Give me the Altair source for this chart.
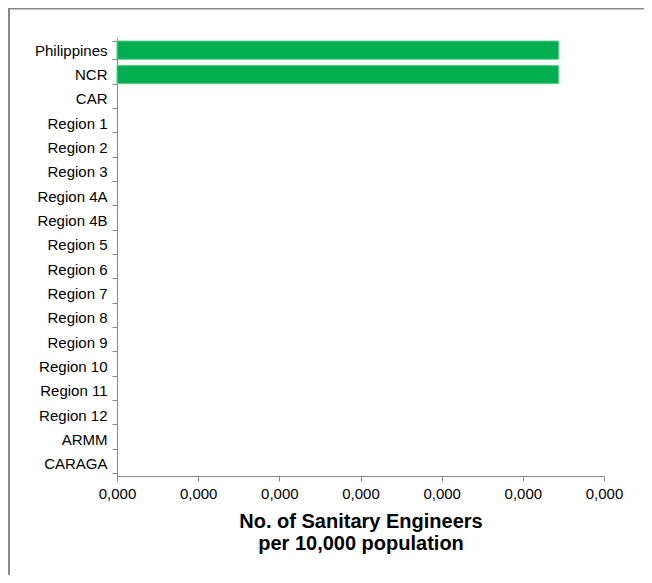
import altair as alt
import pandas as pd

regions = ["Philippines", "NCR", "CAR", "Region 1", "Region 2", "Region 3",
           "Region 4A", "Region 4B", "Region 5", "Region 6", "Region 7",
           "Region 8", "Region 9", "Region 10", "Region 11", "Region 12",
           "ARMM", "CARAGA"]
values = [0.000272, 0.000272, 0, 0, 0, 0, 0, 0, 0, 0, 0, 0, 0, 0, 0, 0, 0, 0]
x_ticks = [0, 0.00005, 0.0001, 0.00015, 0.0002, 0.00025, 0.0003]
x_title = ["No. of Sanitary Engineers", "per 10,000 population"]

df = pd.DataFrame({"region": regions, "value": values})

W, H = 487, 438
GRAY = "#868686"
FONT = "Liberation Sans"

bars = alt.Chart(df).transform_filter("datum.value > 0").mark_bar(
    color="#00B050", stroke="#5ccf8c", strokeWidth=1
).encode(
    y=alt.Y("region:N", sort=regions,
            scale=alt.Scale(domain=regions, paddingInner=0.25, paddingOuter=0.125),
            axis=alt.Axis(title=None, tickBand="extent", tickSize=5,
                          tickColor=GRAY, domainColor=GRAY, grid=False,
                          labelFont=FONT, labelFontSize=15, labelColor="black",
                          labelPadding=5)),
    x=alt.X("value:Q",
            scale=alt.Scale(domain=[0, 0.0003], nice=False, zero=True),
            axis=alt.Axis(values=x_ticks, format=".3f",
                          labelExpr="replace(format(floor(datum.value * 1000) / 1000, '.3f'), '.', ',')",
                          tickSize=5, tickColor=GRAY, domainColor=GRAY, grid=False,
                          labelFont=FONT, labelFontSize=15, labelColor="black",
                          labelPadding=5, labelFlush=False, labelOverlap=False,
                          title=x_title, titleFont=FONT, titleFontSize=20,
                          titleFontWeight="bold", titleColor="black",
                          titleLineHeight=22, titleY=51,
                          titleBaseline="alphabetic")),
)

frame_df = pd.DataFrame({"a": [0]})
top_line = alt.Chart(frame_df).mark_rule(color="#888888", strokeWidth=2).encode(
    x=alt.value(-109), x2=alt.value(W + 40), y=alt.value(-29.5)
)
left_line = alt.Chart(frame_df).mark_rule(color="#888888", strokeWidth=2).encode(
    x=alt.value(-108), y=alt.value(-30), y2=alt.value(H + 99)
)

chart = alt.layer(bars, top_line, left_line).properties(
    width=W, height=H,
    padding={"left": 109, "top": 30, "right": 40, "bottom": 99},
    autosize="none",
).configure_view(stroke=None)

chart.save("out.html", embed_options={"renderer": "svg", "actions": False})
